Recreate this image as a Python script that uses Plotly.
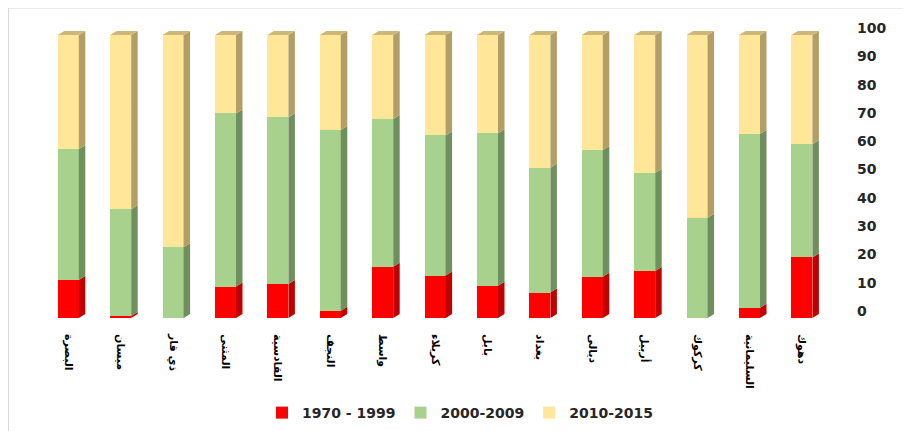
import plotly.graph_objects as go

categories = ["البصرة", "ميسان", "ذي قار", "المثنى", "القادسية", "النجف", "واسط",
              "كربلاء", "بابل", "بغداد", "ديالى", "أربيل", "كركوك", "السليمانية", "دهوك"]
s1970_1999 = [13.4, 0.7, 0.0, 11.1, 12.0, 2.6, 18.1, 15.0, 11.4, 9.0, 14.6, 16.6, 0.0, 3.6, 21.4]
s2000_2009 = [46.2, 37.7, 25.0, 61.2, 58.9, 63.8, 52.2, 49.5, 53.9, 44.1, 44.8, 34.6, 35.4, 61.4, 40.0]
s2010_2015 = [40.4, 61.6, 75.0, 27.7, 29.1, 33.6, 29.7, 35.5, 34.7, 46.9, 40.6, 48.8, 64.6, 35.0, 38.6]
series_names = ["1970 - 1999", "2000-2009", "2010-2015"]
yticks = [0, 10, 20, 30, 40, 50, 60, 70, 80, 90, 100]

front_colors = ["#ff0000", "#a9d18e", "#ffe699"]
side_colors = ["#c00000", "#6f8f5e", "#b39f66"]
top_color = "#cdb878"

# layout geometry (figure pixels; page body adds an 8px offset)
OFF = 8
W, H = 911, 431
pl, pr, pt, pb = 30 - OFF, 856 - OFF, 10 - OFF, 330 - OFF
ppx_x = 52.4
ppx_y = 2.83
x0_px = 68.3 - OFF
xmin = (pl - x0_px) / ppx_x
xmax = (pr - x0_px) / ppx_x
ymin = -(pb - (318 - OFF)) / ppx_y
ymax = ymin + (pb - pt) / ppx_y
label_shift = 7 / ppx_y

bw = 21 / ppx_x
dx = 6.5 / ppx_x
dy = 4 / ppx_y

idx = list(range(len(categories)))
fig = go.Figure()

all_series = [s1970_1999, s2000_2009, s2010_2015]
for name, vals, col in zip(series_names, all_series, front_colors):
    fig.add_trace(go.Bar(x=idx, y=vals, name=name, width=bw,
                         marker=dict(color=col, line=dict(width=0)),
                         hoverinfo="skip"))

# side faces (3D depth)
bases = [0.0] * len(categories)
for vals, col in zip(all_series, side_colors):
    xs, ys = [], []
    for i, v in enumerate(vals):
        b = bases[i]
        t = b + v
        if v > 0:
            xr = i + bw / 2
            xs += [xr, xr + dx, xr + dx, xr, xr, None]
            ys += [b, b + dy, t + dy, t, b, None]
        bases[i] = t
    fig.add_trace(go.Scatter(x=xs, y=ys, mode="lines", fill="toself",
                             fillcolor=col, line=dict(width=0, color=col),
                             showlegend=False, hoverinfo="skip"))

# top faces
xs, ys = [], []
for i, t in enumerate(bases):
    xl, xr = i - bw / 2, i + bw / 2
    xs += [xl, xr, xr + dx, xl + dx, xl, None]
    ys += [t, t, t + dy, t + dy, t, None]
fig.add_trace(go.Scatter(x=xs, y=ys, mode="lines", fill="toself",
                         fillcolor=top_color, line=dict(width=0, color=top_color),
                         showlegend=False, hoverinfo="skip"))

# invisible trace for right-side labels axis
fig.add_trace(go.Scatter(x=[0], y=[0], yaxis="y2", mode="markers",
                         marker=dict(opacity=0), showlegend=False, hoverinfo="skip"))

fig.update_layout(
    width=W, height=H,
    barmode="stack",
    paper_bgcolor="white", plot_bgcolor="white",
    margin=dict(l=pl, r=W - pr, t=pt, b=H - pb, autoexpand=False),
    showlegend=True,
    legend=dict(orientation="h", x=(452 - pl) / (pr - pl), xanchor="center",
                y=(pb - (413 - OFF)) / (pb - pt), yanchor="middle",
                font=dict(family="DejaVu Sans", size=14, color="#262626", weight="bold"),
                traceorder="normal", itemwidth=30),
    xaxis=dict(range=[xmin, xmax], tickvals=idx, ticktext=categories,
               tickangle=90, showgrid=False, zeroline=False, showline=False,
               ticks="", automargin=False, ticklabelstandoff=3,
               tickfont=dict(family="DejaVu Sans", size=11, color="black", weight="bold")),
    yaxis=dict(range=[ymin, ymax], showgrid=False, zeroline=False, showline=False,
               showticklabels=False, ticks="", automargin=False),
    yaxis2=dict(range=[ymin - label_shift, ymax - label_shift], overlaying="y",
                side="right", anchor="x", tickvals=yticks, showgrid=False,
                zeroline=False, showline=False, ticks="", automargin=False,
                tickfont=dict(family="DejaVu Sans", size=14, color="#262626", weight="bold")),
    shapes=[dict(type="rect", xref="paper", yref="paper",
                 x0=(0.5 - pl) / (pr - pl), x1=(925 - pl) / (pr - pl),
                 y0=(pb - 445) / (pb - pt), y1=(pb - 0) / (pb - pt),
                 line=dict(color="#d9d9d9", width=1), layer="below")],
)

fig.write_html("out.html")
